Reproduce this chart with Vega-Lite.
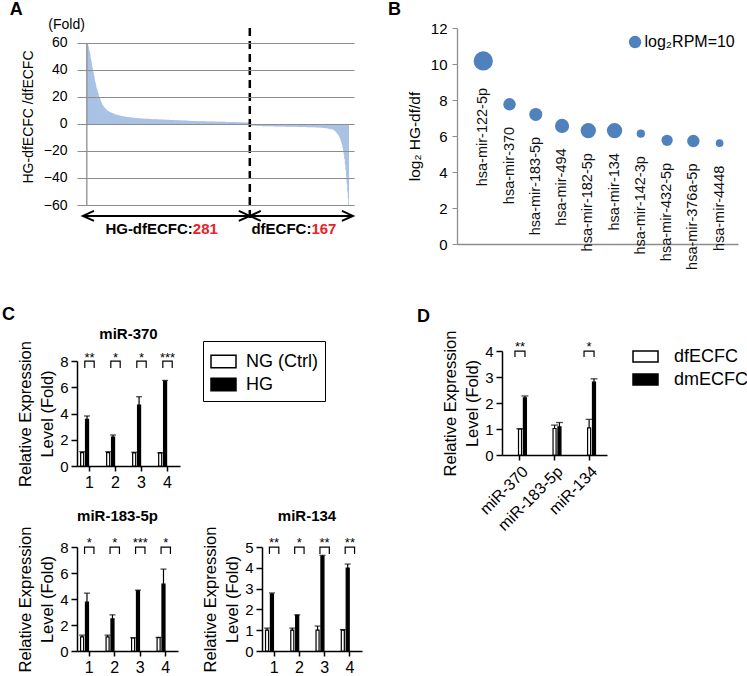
{
"$schema": "https://vega.github.io/schema/vega-lite/v6.json",
"background": "white",
"padding": {"left": 2, "top": 1, "right": 2, "bottom": 2},
"config": {
  "font": "Liberation Sans",
  "view": {"stroke": null},
  "axis": {"labelColor": "black", "titleColor": "black", "titleFontWeight": "normal", "grid": false, "labelOverlap": false, "labelFlush": false},
  "legend": {"labelColor": "black"}
},
"datasets": {
"adata": [
{"i":1,"v":60},{"i":2,"v":60},{"i":3,"v":58},{"i":4,"v":56},{"i":5,"v":54},{"i":6,"v":52},{"i":7,"v":49},{"i":8,"v":47},{"i":9,"v":45},{"i":10,"v":42},
{"i":11,"v":40},{"i":12,"v":38},{"i":13,"v":36},{"i":14,"v":33},{"i":15,"v":31},{"i":16,"v":29},{"i":17,"v":27},{"i":18,"v":26},{"i":19,"v":24},{"i":20,"v":23},
{"i":21,"v":21},{"i":22,"v":20},{"i":23,"v":19},{"i":24,"v":17.5},{"i":25,"v":16.5},{"i":26,"v":15.5},{"i":27,"v":14.5},{"i":28,"v":13.8},{"i":29,"v":13.2},{"i":30,"v":12.6},
{"i":31,"v":12.1},{"i":32,"v":11.6},{"i":33,"v":11.2},{"i":34,"v":10.8},{"i":35,"v":10.4},{"i":36,"v":10},{"i":37,"v":9.7},{"i":38,"v":9.4},{"i":39,"v":9.1},{"i":40,"v":8.9},
{"i":41,"v":8.7},{"i":42,"v":8.5},{"i":43,"v":8.3},{"i":44,"v":8.1},{"i":45,"v":7.9},{"i":46,"v":7.7},{"i":47,"v":7.5},{"i":48,"v":7.3},{"i":49,"v":7.2},{"i":50,"v":7.0},
{"i":51,"v":6.9},{"i":52,"v":6.8},{"i":53,"v":6.7},{"i":54,"v":6.6},{"i":55,"v":6.5},{"i":56,"v":6.4},{"i":57,"v":6.3},{"i":58,"v":6.2},{"i":59,"v":6.1},{"i":60,"v":6.0},
{"i":61,"v":5.9},{"i":62,"v":5.8},{"i":63,"v":5.7},{"i":64,"v":5.6},{"i":65,"v":5.5},{"i":66,"v":5.45},{"i":67,"v":5.4},{"i":68,"v":5.3},{"i":69,"v":5.25},{"i":70,"v":5.2},
{"i":71,"v":5.1},{"i":72,"v":5.05},{"i":73,"v":5.0},{"i":74,"v":4.95},{"i":75,"v":4.9},{"i":76,"v":4.85},{"i":77,"v":4.8},{"i":78,"v":4.75},{"i":79,"v":4.7},{"i":80,"v":4.65},
{"i":81,"v":4.6},{"i":82,"v":4.55},{"i":83,"v":4.5},{"i":84,"v":4.45},{"i":85,"v":4.4},{"i":86,"v":4.35},{"i":87,"v":4.3},{"i":88,"v":4.28},{"i":89,"v":4.25},{"i":90,"v":4.2},
{"i":91,"v":4.18},{"i":92,"v":4.15},{"i":93,"v":4.1},{"i":94,"v":4.08},{"i":95,"v":4.05},{"i":96,"v":4.0},
{"i":97,"v":3.9},{"i":98,"v":3.9},{"i":99,"v":3.9},{"i":100,"v":3.9},{"i":101,"v":3.9},
{"i":102,"v":3.8},{"i":103,"v":3.8},{"i":104,"v":3.8},{"i":105,"v":3.8},{"i":106,"v":3.8},
{"i":107,"v":3.7},{"i":108,"v":3.7},{"i":109,"v":3.7},{"i":110,"v":3.7},{"i":111,"v":3.7},
{"i":112,"v":3.6},{"i":113,"v":3.6},{"i":114,"v":3.6},{"i":115,"v":3.6},{"i":116,"v":3.6},
{"i":117,"v":3.5},{"i":118,"v":3.5},{"i":119,"v":3.5},{"i":120,"v":3.5},{"i":121,"v":3.5},
{"i":122,"v":3.4},{"i":123,"v":3.4},{"i":124,"v":3.4},{"i":125,"v":3.4},{"i":126,"v":3.4},
{"i":127,"v":3.3},{"i":128,"v":3.3},{"i":129,"v":3.3},{"i":130,"v":3.3},{"i":131,"v":3.3},
{"i":132,"v":3.2},{"i":133,"v":3.2},{"i":134,"v":3.2},{"i":135,"v":3.2},{"i":136,"v":3.2},
{"i":137,"v":3.1},{"i":138,"v":3.1},{"i":139,"v":3.1},{"i":140,"v":3.1},{"i":141,"v":3.1},
{"i":142,"v":3.0},{"i":143,"v":3.0},{"i":144,"v":3.0},{"i":145,"v":3.0},
{"i":146,"v":2.9},{"i":147,"v":2.9},{"i":148,"v":2.9},{"i":149,"v":2.9},{"i":150,"v":2.9},
{"i":151,"v":2.8},{"i":152,"v":2.8},{"i":153,"v":2.8},{"i":154,"v":2.8},{"i":155,"v":2.8},
{"i":156,"v":2.7},{"i":157,"v":2.7},{"i":158,"v":2.7},{"i":159,"v":2.7},{"i":160,"v":2.7},
{"i":161,"v":2.6},{"i":162,"v":2.6},{"i":163,"v":2.6},{"i":164,"v":2.6},{"i":165,"v":2.6},
{"i":166,"v":2.5},{"i":167,"v":2.5},{"i":168,"v":2.5},{"i":169,"v":2.5},{"i":170,"v":2.5},
{"i":171,"v":2.4},{"i":172,"v":2.4},{"i":173,"v":2.4},{"i":174,"v":2.4},{"i":175,"v":2.4},
{"i":176,"v":2.3},{"i":177,"v":2.3},{"i":178,"v":2.3},{"i":179,"v":2.3},{"i":180,"v":2.3},
{"i":181,"v":2.2},{"i":182,"v":2.2},{"i":183,"v":2.2},{"i":184,"v":2.2},{"i":185,"v":2.2},
{"i":186,"v":2.1},{"i":187,"v":2.1},{"i":188,"v":2.1},{"i":189,"v":2.1},{"i":190,"v":2.1},
{"i":191,"v":2.0},{"i":192,"v":2.0},{"i":193,"v":2.0},{"i":194,"v":2.0},{"i":195,"v":2.0},
{"i":196,"v":1.95},{"i":197,"v":1.95},{"i":198,"v":1.95},{"i":199,"v":1.95},{"i":200,"v":1.95},{"i":201,"v":1.95},{"i":202,"v":1.95},{"i":203,"v":1.95},
{"i":204,"v":1.9},{"i":205,"v":1.9},{"i":206,"v":1.9},{"i":207,"v":1.9},{"i":208,"v":1.9},{"i":209,"v":1.9},{"i":210,"v":1.9},{"i":211,"v":1.9},
{"i":212,"v":1.8},{"i":213,"v":1.8},{"i":214,"v":1.8},{"i":215,"v":1.8},{"i":216,"v":1.8},{"i":217,"v":1.8},{"i":218,"v":1.8},{"i":219,"v":1.8},
{"i":220,"v":1.7},{"i":221,"v":1.7},{"i":222,"v":1.7},{"i":223,"v":1.7},{"i":224,"v":1.7},{"i":225,"v":1.7},{"i":226,"v":1.7},{"i":227,"v":1.7},{"i":228,"v":1.7},
{"i":229,"v":1.6},{"i":230,"v":1.6},{"i":231,"v":1.6},{"i":232,"v":1.6},{"i":233,"v":1.6},{"i":234,"v":1.6},{"i":235,"v":1.6},{"i":236,"v":1.6},{"i":237,"v":1.6},
{"i":238,"v":1.5},{"i":239,"v":1.5},{"i":240,"v":1.5},{"i":241,"v":1.5},{"i":242,"v":1.5},{"i":243,"v":1.5},{"i":244,"v":1.5},{"i":245,"v":1.5},{"i":246,"v":1.5},
{"i":247,"v":1.4},{"i":248,"v":1.4},{"i":249,"v":1.4},{"i":250,"v":1.4},{"i":251,"v":1.4},{"i":252,"v":1.4},{"i":253,"v":1.4},{"i":254,"v":1.4},{"i":255,"v":1.4},
{"i":256,"v":1.3},{"i":257,"v":1.3},{"i":258,"v":1.3},{"i":259,"v":1.3},{"i":260,"v":1.3},{"i":261,"v":1.3},{"i":262,"v":1.3},{"i":263,"v":1.3},{"i":264,"v":1.3},
{"i":265,"v":1.2},{"i":266,"v":1.2},{"i":267,"v":1.2},{"i":268,"v":1.2},{"i":269,"v":1.2},{"i":270,"v":1.2},{"i":271,"v":1.2},{"i":272,"v":1.2},{"i":273,"v":1.2},
{"i":274,"v":1.1},{"i":275,"v":1.1},{"i":276,"v":1.1},{"i":277,"v":1.1},{"i":278,"v":1.1},{"i":279,"v":1.1},{"i":280,"v":1.1},{"i":281,"v":1.1},
{"i":282,"v":-1.2},{"i":283,"v":-1.2},{"i":284,"v":-1.2},{"i":285,"v":-1.2},{"i":286,"v":-1.2},
{"i":287,"v":-1.3},{"i":288,"v":-1.3},{"i":289,"v":-1.3},{"i":290,"v":-1.3},{"i":291,"v":-1.3},
{"i":292,"v":-1.4},{"i":293,"v":-1.4},{"i":294,"v":-1.4},{"i":295,"v":-1.4},{"i":296,"v":-1.4},
{"i":297,"v":-1.5},{"i":298,"v":-1.5},{"i":299,"v":-1.5},{"i":300,"v":-1.5},
{"i":301,"v":-1.6},{"i":302,"v":-1.6},{"i":303,"v":-1.6},{"i":304,"v":-1.6},{"i":305,"v":-1.6},{"i":306,"v":-1.6},{"i":307,"v":-1.6},{"i":308,"v":-1.6},{"i":309,"v":-1.6},{"i":310,"v":-1.6},
{"i":311,"v":-1.7},{"i":312,"v":-1.7},{"i":313,"v":-1.7},{"i":314,"v":-1.7},{"i":315,"v":-1.7},{"i":316,"v":-1.7},{"i":317,"v":-1.7},{"i":318,"v":-1.7},{"i":319,"v":-1.7},{"i":320,"v":-1.7},
{"i":321,"v":-1.8},{"i":322,"v":-1.8},{"i":323,"v":-1.8},{"i":324,"v":-1.8},{"i":325,"v":-1.8},{"i":326,"v":-1.8},{"i":327,"v":-1.8},{"i":328,"v":-1.8},{"i":329,"v":-1.8},{"i":330,"v":-1.8},
{"i":331,"v":-1.9},{"i":332,"v":-1.9},{"i":333,"v":-1.9},{"i":334,"v":-1.9},{"i":335,"v":-1.9},{"i":336,"v":-1.9},{"i":337,"v":-1.9},{"i":338,"v":-1.9},{"i":339,"v":-1.9},{"i":340,"v":-1.9},
{"i":341,"v":-2.0},{"i":342,"v":-2.0},{"i":343,"v":-2.0},{"i":344,"v":-2.0},{"i":345,"v":-2.0},{"i":346,"v":-2.0},{"i":347,"v":-2.0},{"i":348,"v":-2.0},{"i":349,"v":-2.0},{"i":350,"v":-2.0},
{"i":351,"v":-2.1},{"i":352,"v":-2.1},{"i":353,"v":-2.1},{"i":354,"v":-2.1},{"i":355,"v":-2.1},{"i":356,"v":-2.1},{"i":357,"v":-2.1},{"i":358,"v":-2.1},{"i":359,"v":-2.1},{"i":360,"v":-2.1},
{"i":361,"v":-2.2},{"i":362,"v":-2.2},{"i":363,"v":-2.2},{"i":364,"v":-2.2},{"i":365,"v":-2.2},{"i":366,"v":-2.2},{"i":367,"v":-2.2},{"i":368,"v":-2.2},
{"i":369,"v":-2.3},{"i":370,"v":-2.3},{"i":371,"v":-2.3},{"i":372,"v":-2.3},{"i":373,"v":-2.3},{"i":374,"v":-2.3},{"i":375,"v":-2.3},{"i":376,"v":-2.3},
{"i":377,"v":-2.4},{"i":378,"v":-2.4},{"i":379,"v":-2.4},{"i":380,"v":-2.4},{"i":381,"v":-2.4},{"i":382,"v":-2.4},{"i":383,"v":-2.4},{"i":384,"v":-2.4},
{"i":385,"v":-2.5},{"i":386,"v":-2.5},{"i":387,"v":-2.5},{"i":388,"v":-2.5},{"i":389,"v":-2.5},{"i":390,"v":-2.5},{"i":391,"v":-2.5},{"i":392,"v":-2.5},
{"i":393,"v":-2.6},{"i":394,"v":-2.6},{"i":395,"v":-2.6},{"i":396,"v":-2.6},{"i":397,"v":-2.6},{"i":398,"v":-2.6},{"i":399,"v":-2.6},{"i":400,"v":-2.6},
{"i":401,"v":-2.8},{"i":402,"v":-2.8},{"i":403,"v":-2.8},{"i":404,"v":-2.8},
{"i":405,"v":-3.0},{"i":406,"v":-3.0},{"i":407,"v":-3.0},{"i":408,"v":-3.0},
{"i":409,"v":-3.2},{"i":410,"v":-3.2},{"i":411,"v":-3.2},{"i":412,"v":-3.2},
{"i":413,"v":-3.5},{"i":414,"v":-3.5},{"i":415,"v":-3.5},{"i":416,"v":-3.5},
{"i":417,"v":-3.8},{"i":418,"v":-3.8},{"i":419,"v":-3.8},{"i":420,"v":-3.8},
{"i":421,"v":-4.1},{"i":422,"v":-4.4},{"i":423,"v":-4.7},{"i":424,"v":-5.0},{"i":425,"v":-5.4},{"i":426,"v":-5.8},{"i":427,"v":-6.3},{"i":428,"v":-6.8},{"i":429,"v":-7.4},{"i":430,"v":-8},
{"i":431,"v":-8.7},{"i":432,"v":-9.5},{"i":433,"v":-10.5},{"i":434,"v":-11.5},{"i":435,"v":-13},{"i":436,"v":-14.5},{"i":437,"v":-16},{"i":438,"v":-18},{"i":439,"v":-20},{"i":440,"v":-23},
{"i":441,"v":-26},{"i":442,"v":-30},{"i":443,"v":-34},{"i":444,"v":-39},{"i":445,"v":-44},{"i":446,"v":-50},{"i":447,"v":-55},{"i":448,"v":-60}
],
"bdata": [
{"idx":1,"name":"hsa-mir-122-5p","fold":10.17,"rpm":24},
{"idx":2,"name":"hsa-mir-370","fold":7.76,"rpm":10},
{"idx":3,"name":"hsa-mir-183-5p","fold":7.2,"rpm":11},
{"idx":4,"name":"hsa-mir-494","fold":6.56,"rpm":13},
{"idx":5,"name":"hsa-mir-182-5p","fold":6.3,"rpm":15.3},
{"idx":6,"name":"hsa-mir-134","fold":6.3,"rpm":15.3},
{"idx":7,"name":"hsa-mir-142-3p","fold":6.13,"rpm":4.4},
{"idx":8,"name":"hsa-mir-432-5p","fold":5.76,"rpm":8.2},
{"idx":9,"name":"hsa-mir-376a-5p","fold":5.72,"rpm":10},
{"idx":10,"name":"hsa-mir-4448","fold":5.6,"rpm":3.8}
],
"c370": [
{"g":"1","cond":"NG (Ctrl)","mean":1.02,"hi":1.09},{"g":"1","cond":"HG","mean":3.55,"hi":3.81},
{"g":"2","cond":"NG (Ctrl)","mean":1.02,"hi":1.09},{"g":"2","cond":"HG","mean":2.21,"hi":2.36},
{"g":"3","cond":"NG (Ctrl)","mean":1.0,"hi":1.05},{"g":"3","cond":"HG","mean":4.64,"hi":5.28},
{"g":"4","cond":"NG (Ctrl)","mean":1.0,"hi":1.01},{"g":"4","cond":"HG","mean":6.45,"hi":6.52}
],
"s370": [{"g":"1","stars":"**"},{"g":"2","stars":"*"},{"g":"3","stars":"*"},{"g":"4","stars":"***"}],
"c183": [
{"g":"1","cond":"NG (Ctrl)","mean":1.08,"hi":1.22},{"g":"1","cond":"HG","mean":3.76,"hi":4.45},
{"g":"2","cond":"NG (Ctrl)","mean":1.08,"hi":1.22},{"g":"2","cond":"HG","mean":2.47,"hi":2.78},
{"g":"3","cond":"NG (Ctrl)","mean":1.0,"hi":1.02},{"g":"3","cond":"HG","mean":4.63,"hi":4.68},
{"g":"4","cond":"NG (Ctrl)","mean":1.02,"hi":1.05},{"g":"4","cond":"HG","mean":5.14,"hi":6.3}
],
"s183": [{"g":"1","stars":"*"},{"g":"2","stars":"*"},{"g":"3","stars":"***"},{"g":"4","stars":"*"}],
"c134": [
{"g":"1","cond":"NG (Ctrl)","mean":1.0,"hi":1.1},{"g":"1","cond":"HG","mean":2.74,"hi":2.79},
{"g":"2","cond":"NG (Ctrl)","mean":1.0,"hi":1.1},{"g":"2","cond":"HG","mean":1.71,"hi":1.74},
{"g":"3","cond":"NG (Ctrl)","mean":1.0,"hi":1.2},{"g":"3","cond":"HG","mean":4.55,"hi":4.6},
{"g":"4","cond":"NG (Ctrl)","mean":1.0,"hi":1.03},{"g":"4","cond":"HG","mean":3.99,"hi":4.18}
],
"s134": [{"g":"1","stars":"**"},{"g":"2","stars":"*"},{"g":"3","stars":"**"},{"g":"4","stars":"**"}],
"ddata": [
{"gene":"miR-370","cond":"dfECFC","mean":1.0,"hi":1.01},{"gene":"miR-370","cond":"dmECFC","mean":2.2,"hi":2.27},
{"gene":"miR-183-5p","cond":"dfECFC","mean":1.02,"hi":1.15},{"gene":"miR-183-5p","cond":"dmECFC","mean":1.08,"hi":1.25},
{"gene":"miR-134","cond":"dfECFC","mean":1.04,"hi":1.37},{"gene":"miR-134","cond":"dmECFC","mean":2.8,"hi":2.93}
],
"sd": [{"gene":"miR-370","stars":"**"},{"gene":"miR-134","stars":"*"}]
},
"spacing": 36,
"resolve": {"scale": {"fill": "independent", "size": "independent"}, "legend": {"fill": "independent", "size": "independent"}},
"vconcat": [
{
  "spacing": 103,
  "bounds": "flush",
  "resolve": {"scale": {"fill": "independent", "size": "independent"}, "legend": {"fill": "independent", "size": "independent"}},
  "hconcat": [
  {
    "width": 277, "height": 177,
    "data": {"name": "adata"},
    "layer": [
      {"mark": {"type": "bar", "width": 0.61, "color": "#8fb0dc"},
       "encoding": {
         "x": {"field": "i", "type": "quantitative", "scale": {"domain": [-7.735, 448.5], "nice": false, "zero": false}, "axis": null},
         "y": {"field": "v", "type": "quantitative", "scale": {"domain": [-60, 71.11], "nice": false},
               "axis": {"values": [-60, -40, -20, 0, 20, 40, 60], "tickCount": 30, "format": "d", "labelOverlap": false, "grid": true, "gridColor": "#8d8d8d", "gridWidth": 1.2, "domain": false, "ticks": false, "tickSize": 0, "labelPadding": 10, "labelFontSize": 14, "title": "HG-dfECFC /dfECFC", "titleFontSize": 14, "titlePadding": 8, "zindex": 1}}
       }},
      {"data": {"values": [{}]}, "mark": {"type": "rule", "color": "#8d8d8d", "strokeWidth": 1.3},
       "encoding": {"x": {"datum": 0.5}, "y": {"datum": -60}, "y2": {"datum": 60}}},
      {"data": {"values": [{}]}, "mark": {"type": "rule", "color": "black", "strokeWidth": 2.5, "strokeDash": [8, 5]},
       "encoding": {"x": {"datum": 279}, "y": {"datum": 71.11}, "y2": {"datum": -72}}},
      {"data": {"values": [{}]}, "mark": {"type": "rule", "color": "black", "strokeWidth": 2},
       "encoding": {"x": {"datum": -6.1}, "x2": {"datum": 455.2}, "y": {"datum": -68.1}}},
      {"data": {"values": [{}]}, "mark": {"type": "point", "shape": "M2.2,-1L0,0L2.2,1", "size": 100, "filled": false, "color": "black", "strokeWidth": 2, "opacity": 1},
       "encoding": {"x": {"datum": -6.1}, "y": {"datum": -68.1}}},
      {"data": {"values": [{}]}, "mark": {"type": "point", "shape": "M-2.2,-1L0,0L-2.2,1", "size": 100, "filled": false, "color": "black", "strokeWidth": 2, "opacity": 1},
       "encoding": {"x": {"datum": 279}, "y": {"datum": -68.1}}},
      {"data": {"values": [{}]}, "mark": {"type": "point", "shape": "M2.2,-1L0,0L2.2,1", "size": 100, "filled": false, "color": "black", "strokeWidth": 2, "opacity": 1},
       "encoding": {"x": {"datum": 279}, "y": {"datum": -68.1}}},
      {"data": {"values": [{}]}, "mark": {"type": "point", "shape": "M-2.2,-1L0,0L-2.2,1", "size": 100, "filled": false, "color": "black", "strokeWidth": 2, "opacity": 1},
       "encoding": {"x": {"datum": 455.2}, "y": {"datum": -68.1}}},
      {"data": {"values": [{}]}, "mark": {"type": "text", "text": "HG-dfECFC:", "fontWeight": "bold", "fontSize": 15, "align": "right", "baseline": "middle", "color": "black"},
       "encoding": {"x": {"datum": 181.7}, "y": {"datum": -77.8}}},
      {"data": {"values": [{}]}, "mark": {"type": "text", "text": "281", "fontWeight": "bold", "fontSize": 15, "align": "left", "baseline": "middle", "color": "#e8222a"},
       "encoding": {"x": {"datum": 181.7}, "y": {"datum": -77.8}}},
      {"data": {"values": [{}]}, "mark": {"type": "text", "text": "dfECFC:", "fontWeight": "bold", "fontSize": 15, "align": "right", "baseline": "middle", "color": "black"},
       "encoding": {"x": {"datum": 384.3}, "y": {"datum": -77.8}}},
      {"data": {"values": [{}]}, "mark": {"type": "text", "text": "167", "fontWeight": "bold", "fontSize": 15, "align": "left", "baseline": "middle", "color": "#e8222a"},
       "encoding": {"x": {"datum": 384.3}, "y": {"datum": -77.8}}},
      {"data": {"values": [{}]}, "mark": {"type": "text", "text": "(Fold)", "fontSize": 14, "align": "center", "baseline": "middle", "color": "black"},
       "encoding": {"x": {"datum": -34.1}, "y": {"datum": 73.3}}},
      {"data": {"values": [{}]}, "mark": {"type": "text", "text": "A", "fontWeight": "bold", "fontSize": 18, "align": "left", "baseline": "middle", "color": "black"},
       "encoding": {"x": {"datum": -131.3}, "y": {"datum": 84.4}}}
    ]
  },
  {
    "width": 281, "height": 216,
    "data": {"name": "bdata"},
    "layer": [
      {"mark": {"type": "circle", "color": "#4f81bd", "opacity": 1},
       "encoding": {
         "x": {"field": "idx", "type": "quantitative", "scale": {"domain": [0, 10.7], "nice": false, "zero": false}, "axis": {"domainColor": "#8d8d8d", "domainWidth": 1.3, "ticks": false, "labels": false, "title": null, "grid": false}},
         "y": {"field": "fold", "type": "quantitative", "scale": {"domain": [0, 12], "nice": false}, "axis": {"values": [0, 2, 4, 6, 8, 10, 12], "tickCount": 30, "format": "d", "labelOverlap": false, "domainColor": "#8d8d8d", "domainWidth": 1.3, "tickColor": "#8d8d8d", "tickSize": 5, "labelPadding": 5, "labelFontSize": 15, "title": "log₂ HG-df/df", "titleFontSize": 15.5, "titlePadding": 8}},
         "size": {"field": "rpm", "type": "quantitative", "scale": {"domain": [0, 24], "range": [0, 370]}, "legend": null}
       }},
      {"transform": [{"filter": "datum.rpm > 20"}],
       "mark": {"type": "text", "angle": 270, "align": "right", "baseline": "middle", "dx": -27, "fontSize": 14.5, "color": "#111"},
       "encoding": {"x": {"field": "idx", "type": "quantitative"}, "y": {"field": "fold", "type": "quantitative"}, "text": {"field": "name"}}},
      {"transform": [{"filter": "datum.rpm <= 20"}],
       "mark": {"type": "text", "angle": 270, "align": "right", "baseline": "middle", "dx": -22.5, "fontSize": 14.5, "color": "#111"},
       "encoding": {"x": {"field": "idx", "type": "quantitative"}, "y": {"field": "fold", "type": "quantitative"}, "text": {"field": "name"}}},
      {"data": {"values": [{}]}, "mark": {"type": "circle", "color": "#4f81bd", "opacity": 1, "size": 154},
       "encoding": {"x": {"datum": 6.78}, "y": {"datum": 11.22}}},
      {"data": {"values": [{}]}, "mark": {"type": "text", "text": "log₂RPM=10", "fontSize": 16, "align": "left", "baseline": "middle", "color": "black"},
       "encoding": {"x": {"datum": 7.14}, "y": {"datum": 11.22}}},
      {"data": {"values": [{}]}, "mark": {"type": "text", "text": "B", "fontWeight": "bold", "fontSize": 18, "align": "left", "baseline": "middle", "color": "black"},
       "encoding": {"x": {"datum": -2.63}, "y": {"datum": 13.0}}}
    ]
  }
  ]
},
{
  "spacing": 55,
  "resolve": {"scale": {"fill": "independent", "size": "independent"}, "legend": {"fill": "independent", "size": "independent"}},
  "hconcat": [
  {
    "spacing": 9,
    "bounds": "flush",
    "resolve": {"scale": {"fill": "independent"}, "legend": {"fill": "independent"}},
    "vconcat": [
    {"width": 1, "height": 1, "data": {"values": [{}]}, "mark": {"type": "text", "text": ""}, "encoding": {}},
    {
    "spacing": 81,
    "bounds": "flush",
    "resolve": {"scale": {"fill": "independent"}, "legend": {"fill": "independent"}},
    "vconcat": [
    {
      "width": 103, "height": 105,
      "layer": [
        {"data": {"name": "c370"},
         "mark": {"type": "bar", "stroke": "black", "strokeWidth": 1.2},
         "encoding": {
           "x": {"field": "g", "type": "nominal", "scale": {"paddingInner": 0.32, "paddingOuter": 0.14}, "axis": {"labelAngle": 0, "title": null, "labelFontSize": 16, "tickSize": 5, "tickColor": "black", "tickWidth": 1.5, "domainColor": "black", "domainWidth": 1.5, "labelPadding": 3}},
           "xOffset": {"field": "cond", "type": "nominal", "scale": {"domain": ["NG (Ctrl)", "HG"], "paddingInner": 0.38}},
           "y": {"field": "mean", "type": "quantitative", "scale": {"domain": [0, 8], "nice": false}, "axis": {"values": [0, 2, 4, 6, 8], "tickCount": 30, "format": "d", "labelOverlap": false, "labelFontSize": 15, "tickSize": 6, "tickColor": "black", "tickWidth": 1.5, "domainColor": "black", "domainWidth": 1.5, "labelPadding": 3, "title": ["Relative Expression", "Level (Fold)"], "titleFontSize": 16.5, "titleLineHeight": 22, "titlePadding": 4}},
           "fill": {"field": "cond", "type": "nominal", "scale": {"domain": ["NG (Ctrl)", "HG"], "range": ["white", "black"]},
                    "legend": {"orient": "none", "legendX": 126, "legendY": -20, "title": null, "strokeColor": "black", "padding": 7, "symbolType": "M-1,-0.5H1V0.5H-1Z", "symbolSize": 625, "symbolStrokeColor": "black", "symbolStrokeWidth": 1.5, "labelFontSize": 18, "labelOffset": 9, "rowPadding": -2}}
         }},
        {"data": {"name": "c370"}, "mark": {"type": "rule", "color": "black", "strokeWidth": 1.2},
         "encoding": {"x": {"field": "g", "type": "nominal"}, "xOffset": {"field": "cond", "type": "nominal"}, "y": {"field": "mean", "type": "quantitative"}, "y2": {"field": "hi"}}},
        {"data": {"name": "c370"}, "mark": {"type": "tick", "color": "black", "size": 6, "thickness": 1.3},
         "encoding": {"x": {"field": "g", "type": "nominal"}, "xOffset": {"field": "cond", "type": "nominal"}, "y": {"field": "hi", "type": "quantitative"}}},
        {"data": {"name": "s370"}, "mark": {"type": "point", "shape": "M-1,0.74L-1,-0.74L1,-0.74L1,0.74", "size": 88, "filled": false, "color": "black", "strokeWidth": 1.2, "opacity": 1},
         "encoding": {"x": {"field": "g", "type": "nominal"}, "y": {"datum": 7.73}}},
        {"data": {"name": "s370"}, "mark": {"type": "text", "fontSize": 13, "baseline": "alphabetic", "color": "black"},
         "encoding": {"x": {"field": "g", "type": "nominal"}, "y": {"datum": 7.95}, "text": {"field": "stars"}}},
        {"data": {"values": [{}]}, "mark": {"type": "text", "text": "miR-370", "fontWeight": "bold", "fontSize": 15, "baseline": "middle", "color": "black"},
         "encoding": {"y": {"datum": 10.06}}},
        {"data": {"values": [{}]}, "mark": {"type": "text", "text": "C", "fontWeight": "bold", "fontSize": 18, "align": "left", "baseline": "middle", "dx": -126.5, "color": "black"},
         "encoding": {"y": {"datum": 11.5}}}
      ]
    },
    {
      "spacing": 84,
      "bounds": "flush",
      "resolve": {"scale": {"fill": "independent"}, "legend": {"fill": "independent"}},
      "hconcat": [
      {
        "width": 101, "height": 104,
        "layer": [
          {"data": {"name": "c183"},
           "mark": {"type": "bar", "stroke": "black", "strokeWidth": 1.2},
           "encoding": {
             "x": {"field": "g", "type": "nominal", "scale": {"paddingInner": 0.32, "paddingOuter": 0.14}, "axis": {"labelAngle": 0, "title": null, "labelFontSize": 16, "tickSize": 5, "tickColor": "black", "tickWidth": 1.5, "domainColor": "black", "domainWidth": 1.5, "labelPadding": 3}},
             "xOffset": {"field": "cond", "type": "nominal", "scale": {"domain": ["NG (Ctrl)", "HG"], "paddingInner": 0.38}},
             "y": {"field": "mean", "type": "quantitative", "scale": {"domain": [0, 8], "nice": false}, "axis": {"values": [0, 2, 4, 6, 8], "tickCount": 30, "format": "d", "labelOverlap": false, "labelFontSize": 15, "tickSize": 6, "tickColor": "black", "tickWidth": 1.5, "domainColor": "black", "domainWidth": 1.5, "labelPadding": 3, "title": ["Relative Expression", "Level (Fold)"], "titleFontSize": 16.5, "titleLineHeight": 22, "titlePadding": 4}},
             "fill": {"field": "cond", "type": "nominal", "scale": {"domain": ["NG (Ctrl)", "HG"], "range": ["white", "black"]}, "legend": null}
           }},
          {"data": {"name": "c183"}, "mark": {"type": "rule", "color": "black", "strokeWidth": 1.2},
           "encoding": {"x": {"field": "g", "type": "nominal"}, "xOffset": {"field": "cond", "type": "nominal"}, "y": {"field": "mean", "type": "quantitative"}, "y2": {"field": "hi"}}},
          {"data": {"name": "c183"}, "mark": {"type": "tick", "color": "black", "size": 6, "thickness": 1.3},
           "encoding": {"x": {"field": "g", "type": "nominal"}, "xOffset": {"field": "cond", "type": "nominal"}, "y": {"field": "hi", "type": "quantitative"}}},
          {"data": {"name": "s183"}, "mark": {"type": "point", "shape": "M-1,0.74L-1,-0.74L1,-0.74L1,0.74", "size": 88, "filled": false, "color": "black", "strokeWidth": 1.2, "opacity": 1},
           "encoding": {"x": {"field": "g", "type": "nominal"}, "y": {"datum": 7.73}}},
          {"data": {"name": "s183"}, "mark": {"type": "text", "fontSize": 13, "baseline": "alphabetic", "color": "black"},
           "encoding": {"x": {"field": "g", "type": "nominal"}, "y": {"datum": 8.0}, "text": {"field": "stars"}}},
          {"data": {"values": [{}]}, "mark": {"type": "text", "text": "miR-183-5p", "fontWeight": "bold", "fontSize": 15, "baseline": "middle", "dx": -10, "color": "black"},
           "encoding": {"y": {"datum": 10.38}}}
        ]
      },
      {
        "width": 100, "height": 104,
        "layer": [
          {"data": {"name": "c134"},
           "mark": {"type": "bar", "stroke": "black", "strokeWidth": 1.2},
           "encoding": {
             "x": {"field": "g", "type": "nominal", "scale": {"paddingInner": 0.32, "paddingOuter": 0.14}, "axis": {"labelAngle": 0, "title": null, "labelFontSize": 16, "tickSize": 5, "tickColor": "black", "tickWidth": 1.5, "domainColor": "black", "domainWidth": 1.5, "labelPadding": 3}},
             "xOffset": {"field": "cond", "type": "nominal", "scale": {"domain": ["NG (Ctrl)", "HG"], "paddingInner": 0.38}},
             "y": {"field": "mean", "type": "quantitative", "scale": {"domain": [0, 5], "nice": false}, "axis": {"values": [0, 1, 2, 3, 4, 5], "tickCount": 30, "format": "d", "labelOverlap": false, "labelFontSize": 15, "tickSize": 6, "tickColor": "black", "tickWidth": 1.5, "domainColor": "black", "domainWidth": 1.5, "labelPadding": 3, "title": ["Relative Expression", "Level (Fold)"], "titleFontSize": 16.5, "titleLineHeight": 22, "titlePadding": 4}},
             "fill": {"field": "cond", "type": "nominal", "scale": {"domain": ["NG (Ctrl)", "HG"], "range": ["white", "black"]}, "legend": null}
           }},
          {"data": {"name": "c134"}, "mark": {"type": "rule", "color": "black", "strokeWidth": 1.2},
           "encoding": {"x": {"field": "g", "type": "nominal"}, "xOffset": {"field": "cond", "type": "nominal"}, "y": {"field": "mean", "type": "quantitative"}, "y2": {"field": "hi"}}},
          {"data": {"name": "c134"}, "mark": {"type": "tick", "color": "black", "size": 6, "thickness": 1.3},
           "encoding": {"x": {"field": "g", "type": "nominal"}, "xOffset": {"field": "cond", "type": "nominal"}, "y": {"field": "hi", "type": "quantitative"}}},
          {"data": {"name": "s134"}, "mark": {"type": "point", "shape": "M-1,0.74L-1,-0.74L1,-0.74L1,0.74", "size": 88, "filled": false, "color": "black", "strokeWidth": 1.2, "opacity": 1},
           "encoding": {"x": {"field": "g", "type": "nominal"}, "y": {"datum": 4.83}}},
          {"data": {"name": "s134"}, "mark": {"type": "text", "fontSize": 13, "baseline": "alphabetic", "color": "black"},
           "encoding": {"x": {"field": "g", "type": "nominal"}, "y": {"datum": 5.0}, "text": {"field": "stars"}}},
          {"data": {"values": [{}]}, "mark": {"type": "text", "text": "miR-134", "fontWeight": "bold", "fontSize": 15, "baseline": "middle", "dx": -5, "color": "black"},
           "encoding": {"y": {"datum": 6.49}}}
        ]
      }
      ]
    }
    ]
    }
    ]
  },
  {
    "width": 105, "height": 104,
    "layer": [
      {"data": {"name": "ddata"},
       "mark": {"type": "bar", "stroke": "black", "strokeWidth": 1.2},
       "encoding": {
         "x": {"field": "gene", "type": "nominal", "scale": {"domain": ["miR-370", "miR-183-5p", "miR-134"], "paddingInner": 0.35, "paddingOuter": 0.195}, "axis": {"labelAngle": -45, "title": null, "labelFontSize": 16, "tickSize": 5, "tickColor": "black", "tickWidth": 1.5, "domainColor": "black", "domainWidth": 1.5, "labelPadding": 3}},
         "xOffset": {"field": "cond", "type": "nominal", "scale": {"domain": ["dfECFC", "dmECFC"], "paddingInner": 0.27}},
         "y": {"field": "mean", "type": "quantitative", "scale": {"domain": [0, 4], "nice": false}, "axis": {"values": [0, 1, 2, 3, 4], "tickCount": 30, "format": "d", "labelOverlap": false, "labelFontSize": 15, "tickSize": 6, "tickColor": "black", "tickWidth": 1.5, "domainColor": "black", "domainWidth": 1.5, "labelPadding": 3, "title": ["Relative Expression", "Level (Fold)"], "titleFontSize": 16.5, "titleLineHeight": 22, "titlePadding": 4}},
         "fill": {"field": "cond", "type": "nominal", "scale": {"domain": ["dfECFC", "dmECFC"], "range": ["white", "black"]},
                  "legend": {"orient": "none", "legendX": 130, "legendY": -8, "title": null, "padding": 0, "symbolType": "M-1,-0.44H1V0.44H-1Z", "symbolSize": 625, "symbolStrokeColor": "black", "symbolStrokeWidth": 1.5, "labelFontSize": 18, "labelOffset": 15, "rowPadding": -3}}
       }},
      {"data": {"name": "ddata"}, "mark": {"type": "rule", "color": "black", "strokeWidth": 1.2},
       "encoding": {"x": {"field": "gene", "type": "nominal"}, "xOffset": {"field": "cond", "type": "nominal"}, "y": {"field": "mean", "type": "quantitative"}, "y2": {"field": "hi"}}},
      {"data": {"name": "ddata"}, "mark": {"type": "tick", "color": "black", "size": 7, "thickness": 1.3},
       "encoding": {"x": {"field": "gene", "type": "nominal"}, "xOffset": {"field": "cond", "type": "nominal"}, "y": {"field": "hi", "type": "quantitative"}}},
      {"data": {"name": "sd"}, "mark": {"type": "point", "shape": "M-1,0.6L-1,-0.6L1,-0.6L1,0.6", "size": 100, "filled": false, "color": "black", "strokeWidth": 1.2, "opacity": 1},
       "encoding": {"x": {"field": "gene", "type": "nominal"}, "y": {"datum": 3.88}}},
      {"data": {"name": "sd"}, "mark": {"type": "text", "fontSize": 13, "baseline": "alphabetic", "color": "black"},
       "encoding": {"x": {"field": "gene", "type": "nominal"}, "y": {"datum": 4.0}, "text": {"field": "stars"}}},
      {"data": {"values": [{}]}, "mark": {"type": "text", "text": "D", "fontWeight": "bold", "fontSize": 18, "align": "left", "baseline": "middle", "dx": -137.5, "color": "black"},
       "encoding": {"y": {"datum": 5.32}}}
    ]
  }
  ]
}
]
}
